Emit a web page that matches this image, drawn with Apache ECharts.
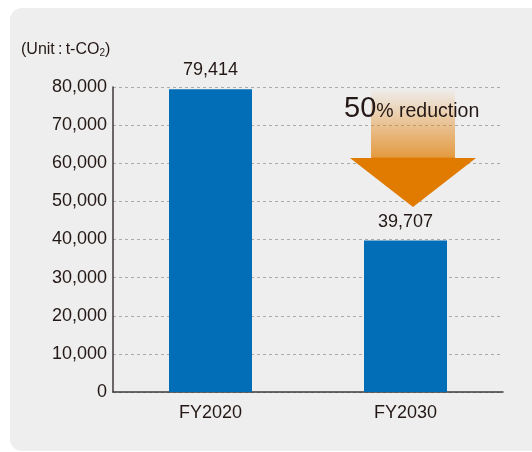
<!DOCTYPE html>
<html>
<head>
<meta charset="utf-8">
<script src="https://cdn.jsdelivr.net/npm/echarts@6/dist/echarts.min.js"></script>
<style>
html, body { margin: 0; padding: 0; background: #fff; }
#main { width: 532px; height: 452px; }
</style>
</head>
<body>
<div id="main"></div>
<script>
const categories = ['FY2020', 'FY2030'];
const emissions = [79414, 39707];
const yTicks = [0, 10000, 20000, 30000, 40000, 50000, 60000, 70000, 80000];

const textColor = '#231815';
const font = '"Liberation Sans", Arial, sans-serif';

const chart = echarts.init(document.getElementById('main'));

const options = {
    animation: false,
    textStyle: { fontFamily: font },
    grid: { left: 113, right: 29, top: 87, bottom: 60, containLabel: false },
    xAxis: {
        type: 'category',
        data: categories,
        axisLine: { lineStyle: { color: '#3e3a39', width: 1.5 } },
        axisTick: { show: false },
        axisLabel: { color: textColor, fontSize: 18, margin: 12, fontFamily: font }
    },
    yAxis: {
        type: 'value',
        min: yTicks[0],
        max: yTicks[yTicks.length - 1],
        interval: 10000,
        axisLine: { show: true, lineStyle: { color: '#3e3a39', width: 1.5 } },
        axisTick: { show: false },
        axisLabel: {
            color: textColor, fontSize: 18, margin: 6, fontFamily: font,
            formatter: v => v.toLocaleString('en-US')
        },
        splitLine: { lineStyle: { color: '#aaaaaa', type: [3, 3], width: 1 } }
    },
    series: [{
        type: 'bar',
        data: emissions,
        barWidth: 83,
        itemStyle: { color: '#036eb8' },
        label: {
            show: true,
            position: 'top',
            distance: 10,
            color: textColor,
            fontSize: 18,
            fontFamily: font,
            formatter: p => p.value.toLocaleString('en-US')
        }
    }],
    graphic: [
        {
            type: 'rect', z: -10, silent: true,
            shape: { x: 10, y: 8, width: 560, height: 443, r: 12 },
            style: { fill: '#eeeeee' }
        },
        {
            type: 'text', left: 21, top: 42,
            style: {
                text: '{a|(Unit\u2009:\u2009t-CO}{s|2}{a|)}',
                rich: {
                    a: { fontSize: 16, fill: textColor, fontFamily: font, verticalAlign: 'bottom' },
                    s: { fontSize: 10, fill: textColor, fontFamily: font, verticalAlign: 'bottom', lineHeight: 4 }
                }
            }
        },
        {
            type: 'polygon', z: 5, silent: true,
            shape: {
                points: [[371, 88], [455, 88], [455, 158], [476, 158], [413, 207], [350, 158], [371, 158]]
            },
            style: {
                fill: new echarts.graphic.LinearGradient(0, 0, 0, 1, [
                    { offset: 0, color: 'rgba(224,123,0,0.0)' },
                    { offset: 0.58, color: 'rgba(224,123,0,0.72)' },
                    { offset: 0.59, color: 'rgba(224,123,0,1)' },
                    { offset: 1, color: 'rgba(224,123,0,1)' }
                ])
            }
        },
        {
            type: 'text', z: 6, left: 344, top: 94,
            style: {
                text: '{big|50}{small|% reduction}',
                rich: {
                    big: { fontSize: 29, fill: textColor, fontFamily: font, verticalAlign: 'bottom' },
                    small: { fontSize: 19.5, fill: textColor, fontFamily: font, verticalAlign: 'bottom', padding: [0, 0, 1, 0] }
                }
            }
        }
    ]
};

chart.setOption(options);
</script>
</body>
</html>
